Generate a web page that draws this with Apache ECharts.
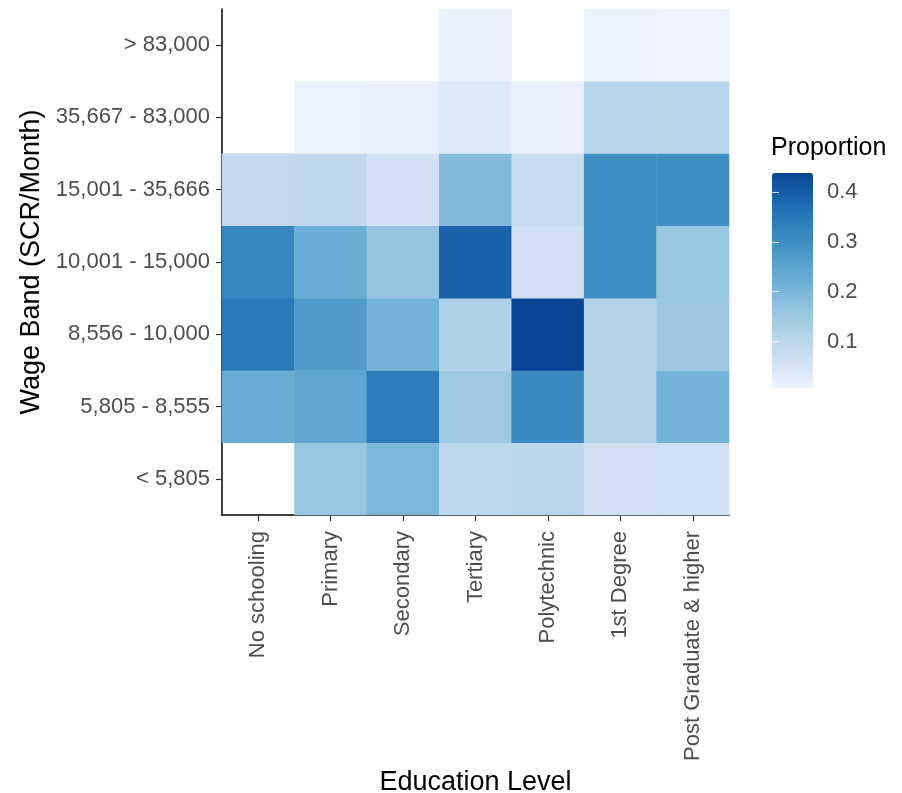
<!DOCTYPE html>
<html>
<head>
<meta charset="utf-8">
<script src="https://cdn.jsdelivr.net/npm/echarts@6/dist/echarts.min.js"></script>
<style>
  html, body { margin: 0; padding: 0; background: #ffffff; }
  #chart { width: 902px; height: 793px; }
</style>
</head>
<body>
<div id="chart"></div>
<script>
// Education levels (x axis), left to right
const educationLevels = ['No schooling', 'Primary', 'Secondary', 'Tertiary', 'Polytechnic', '1st Degree', 'Post Graduate & higher'];

// Wage bands (y axis), bottom to top
const wageBands = ['< 5,805', '5,805 - 8,555', '8,556 - 10,000', '10,001 - 15,000', '15,001 - 35,666', '35,667 - 83,000', '> 83,000'];

// Proportion of each education level falling in each wage band (null = no data)
// one array per education level, ordered like wageBands
const noSchooling   = [null, 0.225, 0.345, 0.320, 0.085, null,  null];
const primary       = [0.160, 0.245, 0.270, 0.225, 0.090, 0.012, null];
const secondary     = [0.200, 0.340, 0.210, 0.165, 0.060, 0.018, null];
const tertiary      = [0.095, 0.150, 0.120, 0.390, 0.190, 0.035, 0.015];
const polytechnic   = [0.100, 0.310, 0.438, 0.060, 0.075, 0.015, null];
const firstDegree   = [0.060, 0.115, 0.115, 0.300, 0.300, 0.110, 0.014];
const postGraduate  = [0.065, 0.210, 0.155, 0.160, 0.300, 0.110, 0.007];

const proportionColumns = [noSchooling, primary, secondary, tertiary, polytechnic, firstDegree, postGraduate];

// Colour scale limits and legend ticks
const scaleMin = 0.007;
const scaleMax = 0.438;
const legendTicks = [0.1, 0.2, 0.3, 0.4];

const heatData = [];
proportionColumns.forEach((col, xi) => {
  col.forEach((v, yi) => {
    if (v !== null) heatData.push([xi, yi, v]);
  });
});

const blues = ['#EFF3FF', '#C6DBEF', '#9ECAE1', '#6BAED6', '#4292C6', '#2171B5', '#084594'];

const tickLabelColor = '#4d4d4d';
const fontFamily = '"Liberation Sans", Arial, sans-serif';

const chart = echarts.init(document.getElementById('chart'), null, { renderer: 'canvas' });

chart.setOption({
  backgroundColor: '#ffffff',
  animation: false,
  textStyle: { fontFamily: fontFamily },
  title: {
    text: 'Proportion',
    left: 771,
    top: 136,
    padding: 0,
    textStyle: { fontSize: 25, fontWeight: 'normal', color: '#000000', fontFamily: fontFamily }
  },
  grid: [
    { left: 222, right: 173, top: 9, bottom: 278, containLabel: false, outerBoundsMode: 'none' },
    { left: 772, top: 173, width: 41, height: 215, containLabel: false, outerBoundsMode: 'none' }
  ],
  xAxis: [
    {
      type: 'category',
      gridIndex: 0,
      data: educationLevels,
      name: 'Education Level',
      nameLocation: 'middle',
      nameGap: 246,
      nameTextStyle: { fontSize: 27, color: '#000000' },
      axisLine: { show: true, lineStyle: { color: '#000000', width: 1.5 } },
      axisTick: { show: true, alignWithLabel: true, length: 6, lineStyle: { color: '#333333', width: 1.2 } },
      axisLabel: { rotate: 90, fontSize: 22, color: tickLabelColor, margin: 16, interval: 0 },
      splitLine: { show: false }
    },
    {
      type: 'value',
      gridIndex: 1,
      show: false
    }
  ],
  yAxis: [
    {
      type: 'category',
      gridIndex: 0,
      data: wageBands,
      name: 'Wage Band (SCR/Month)',
      nameLocation: 'middle',
      nameGap: 176,
      nameRotate: 90,
      nameTextStyle: { fontSize: 27, color: '#000000' },
      axisLine: { show: true, lineStyle: { color: '#000000', width: 1.5 } },
      axisTick: { show: true, alignWithLabel: true, length: 6, lineStyle: { color: '#333333', width: 1.2 } },
      axisLabel: { fontSize: 22, color: tickLabelColor, margin: 12, interval: 0 },
      splitLine: { show: false }
    },
    {
      type: 'value',
      gridIndex: 1,
      position: 'right',
      min: scaleMin,
      max: scaleMax,
      axisLine: { show: false },
      axisTick: { show: true, inside: true, length: 7, customValues: legendTicks, lineStyle: { color: 'rgba(255,255,255,0.8)', width: 1 } },
      axisLabel: { customValues: legendTicks, fontSize: 22, color: tickLabelColor, margin: 14 },
      splitLine: { show: false },
      z: 10
    },
    {
      type: 'value',
      gridIndex: 1,
      position: 'left',
      min: scaleMin,
      max: scaleMax,
      axisLine: { show: false },
      axisTick: { show: true, inside: true, length: 7, customValues: legendTicks, lineStyle: { color: 'rgba(255,255,255,0.8)', width: 1 } },
      axisLabel: { show: false },
      splitLine: { show: false },
      z: 10
    }
  ],
  visualMap: {
    type: 'continuous',
    min: scaleMin,
    max: scaleMax,
    seriesIndex: 0,
    orient: 'vertical',
    left: 772,
    top: 173,
    itemWidth: 41,
    itemHeight: 215,
    padding: 0,
    calculable: false,
    realtime: false,
    text: null,
    showLabel: false,
    hoverLink: false,
    inRange: { color: blues },
    z: 1
  },
  series: [
    {
      type: 'heatmap',
      xAxisIndex: 0,
      yAxisIndex: 0,
      data: heatData,
      itemStyle: { borderWidth: 0 },
      emphasis: { disabled: true },
      progressive: 0
    }
  ]
});
</script>
</body>
</html>
